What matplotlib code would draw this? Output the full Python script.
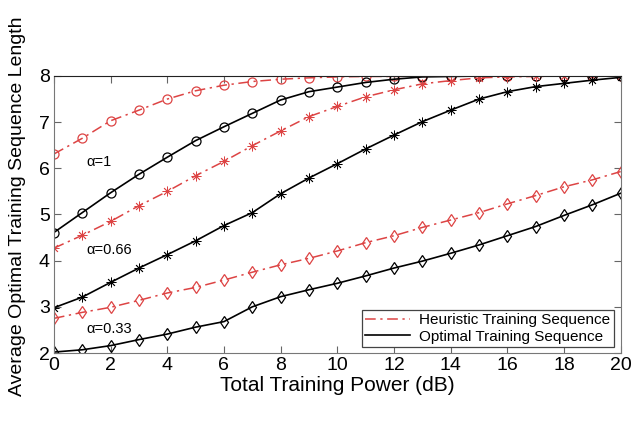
import numpy as np
import matplotlib
matplotlib.use("Agg")
import matplotlib.pyplot as plt

plt.rcParams['font.family'] = ['Liberation Sans', 'DejaVu Sans']

power_db = np.arange(0, 21)

# alpha = 1
heur_a1 = [6.31, 6.65, 7.03, 7.26, 7.50, 7.68, 7.80, 7.88, 7.93, 7.96, 7.98,
           7.99, 7.99, 8.0, 8.0, 8.0, 8.0, 8.0, 8.0, 8.0, 8.0]
opt_a1 = [4.61, 5.04, 5.47, 5.87, 6.24, 6.60, 6.90, 7.19, 7.48, 7.66, 7.76,
          7.86, 7.93, 7.98, 7.99, 8.0, 8.0, 8.0, 8.0, 8.0, 8.0]
# alpha = 0.66
heur_a066 = [4.27, 4.55, 4.85, 5.19, 5.50, 5.84, 6.15, 6.49, 6.81, 7.12, 7.34,
             7.55, 7.70, 7.83, 7.90, 7.96, 7.98, 7.99, 8.0, 8.0, 8.0]
opt_a066 = [2.98, 3.21, 3.53, 3.84, 4.13, 4.43, 4.76, 5.04, 5.45, 5.79, 6.10,
            6.42, 6.72, 7.01, 7.26, 7.50, 7.66, 7.77, 7.84, 7.91, 7.97]
# alpha = 0.33
heur_a033 = [2.75, 2.88, 2.99, 3.14, 3.30, 3.42, 3.58, 3.75, 3.91, 4.05, 4.21,
             4.39, 4.54, 4.72, 4.88, 5.04, 5.23, 5.41, 5.60, 5.75, 5.93]
opt_a033 = [2.02, 2.07, 2.16, 2.29, 2.41, 2.56, 2.68, 3.00, 3.22, 3.37, 3.51,
            3.67, 3.84, 3.99, 4.16, 4.34, 4.54, 4.74, 4.98, 5.21, 5.46]

alpha_labels = ['\u03b1=1', '\u03b1=0.66', '\u03b1=0.33']
alpha_label_pos = [(1.15, 6.14), (1.15, 4.23), (1.15, 2.52)]

red = '#dd4444'
dashdot = (0, (7, 3, 1.5, 3))
asterisk = (8, 2, 0)

fig = plt.figure(figsize=(6.34, 4.21), dpi=100)
ax = fig.add_axes([0.085, 0.1615, 0.894, 0.658])

# (heuristic, optimal, marker, size, edge width)
for h, o, m, s, w in [(heur_a1, opt_a1, 'o', 6.5, 0.9),
                      (heur_a066, opt_a066, asterisk, 7, 0.6),
                      (heur_a033, opt_a033, 'd', 6.5, 0.9)]:
    ax.plot(power_db, h, color=red, ls=dashdot, lw=1.1, marker=m,
            ms=s, mfc='none', mec=red, mew=w)
    ax.plot(power_db, o, color='black', ls='-', lw=1.2, marker=m,
            ms=s, mfc='none', mec='black', mew=w)

ax.plot([], [], color=red, ls=dashdot, lw=1.1, label='Heuristic Training Sequence')
ax.plot([], [], color='black', ls='-', lw=1.2, label='Optimal Training Sequence')

for txt, (x, y) in zip(alpha_labels, alpha_label_pos):
    ax.text(x, y, txt, fontsize=10.5, va='center', ha='left')

ax.set_xlim(0, 20)
ax.set_ylim(2, 8)
ax.set_xticks(np.arange(0, 21, 2))
ax.set_yticks(np.arange(2, 9, 1))
ax.tick_params(direction='in', top=True, right=True, labelsize=14,
               length=5, color='#666666', pad=3)
for s in ['left', 'right', 'bottom']:
    ax.spines[s].set_color('#777777')
ax.spines['top'].set_color('#222222')

ax.set_xlabel('Total Training Power (dB)', fontsize=15, labelpad=1)
ax.set_ylabel('Average Optimal Training Sequence Length', fontsize=14)
ax.yaxis.set_label_coords(-0.05, 0.53)

leg = ax.legend(loc='lower right', bbox_to_anchor=(0.988, 0.02), borderaxespad=0,
                fontsize=11, fancybox=False, framealpha=1, handlelength=2.9,
                borderpad=0.25, labelspacing=0.15, handletextpad=0.6)
leg.get_frame().set_edgecolor('#444444')
leg.get_frame().set_linewidth(0.9)

fig.savefig('out.png', dpi=100)
